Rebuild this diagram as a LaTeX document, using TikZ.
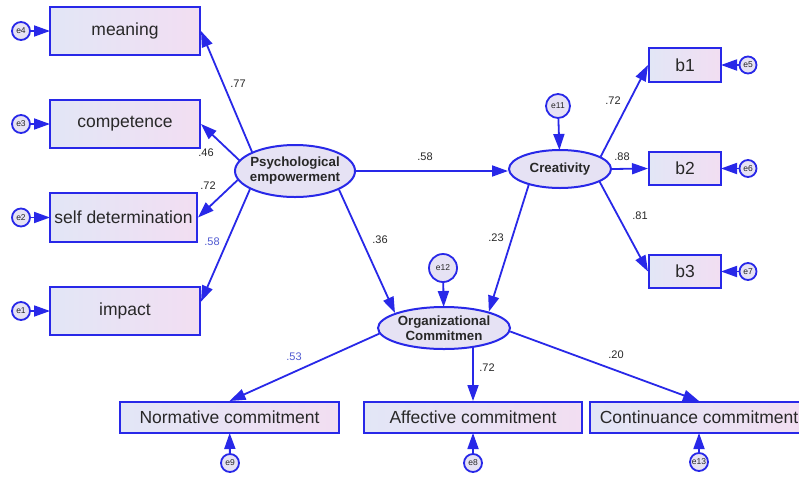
\documentclass[tikz,border=0pt]{standalone}
\usepackage{fontspec}
\setmainfont{Liberation Sans}
\usetikzlibrary{shapes.geometric, arrows.meta, calc}
\definecolor{LineBlue}{RGB}{40,40,232}
\definecolor{BoxLeft}{RGB}{226,230,246}
\definecolor{BoxRight}{RGB}{242,222,242}
\definecolor{LatFill}{RGB}{230,226,244}
\definecolor{CoefBlue}{RGB}{80,90,210}
\definecolor{TextDark}{RGB}{40,40,40}
\tikzset{
  obs/.style={rectangle, draw=LineBlue, line width=2pt, left color=BoxLeft, right color=BoxRight, inner sep=0pt, text=TextDark, font=\fontsize{17.5}{20}\selectfont},
  latent/.style={ellipse, draw=LineBlue, line width=2pt, fill=LatFill, inner sep=-4pt, align=center, text=TextDark, font=\bfseries\fontsize{13.3}{15}\selectfont},
  err/.style={circle, draw=LineBlue, line width=1.8pt, fill=LatFill, inner sep=0pt, text=TextDark, font=\fontsize{8.5}{9}\selectfont},
  reg/.style={LineBlue, line width=1.8pt, -{Triangle[length=16pt,width=11pt]}},
  coef/.style={text=TextDark, font=\fontsize{11}{12}\selectfont}
}

\begin{document}
\begin{tikzpicture}[x=1pt, y=-1pt]
  \useasboundingbox[fill=white] (0,0) rectangle (799,477);

  % Indicators of psychological empowerment
  \node[obs, minimum width=150pt, minimum height=48pt] (meaning) at (125,31) {meaning};
  \node[obs, minimum width=150pt, minimum height=48pt] (competence) at (125,124) {competence};
  \node[obs, minimum width=147pt, minimum height=49pt] (selfdet) at (123.5,217.5) {self determination};
  \node[obs, minimum width=150pt, minimum height=48pt] (impact) at (125,311) {impact};
  \node[err, minimum size=18pt] (e4) at (21,31) {e4};
  \node[err, minimum size=18pt] (e3) at (21,124) {e3};
  \node[err, minimum size=18pt] (e2) at (21,217.5) {e2};
  \node[err, minimum size=18pt] (e1) at (21,311) {e1};

  % Indicators of creativity
  \node[obs, minimum width=72pt, minimum height=34pt] (b1) at (685,65) {b1};
  \node[obs, minimum width=72pt, minimum height=33pt] (b2) at (685,168.5) {b2};
  \node[obs, minimum width=72pt, minimum height=33pt] (b3) at (685,271.5) {b3};
  \node[err, minimum size=17pt] (e5) at (748,65) {e5};
  \node[err, minimum size=17pt] (e6) at (748,168.5) {e6};
  \node[err, minimum size=17pt] (e7) at (748,271.5) {e7};

  % Indicators of organizational commitment
  \node[obs, minimum width=219pt, minimum height=31pt] (norm) at (229.5,417.5) {Normative commitment};
  \node[obs, minimum width=218pt, minimum height=31pt] (aff) at (473,417.5) {Affective commitment};
  \node[obs, minimum width=218pt, minimum height=31pt] (cont) at (699,417.5) {Continuance commitment};
  \node[err, minimum size=18pt] (e9) at (230,463) {e9};
  \node[err, minimum size=18pt] (e8) at (473,463) {e8};
  \node[err, minimum size=18pt] (e13) at (699,462) {e13};

  % Latent variables
  \node[latent, minimum width=120pt, minimum height=52pt] (PE) at (295,171) {Psychological\\empowerment};
  \node[latent, minimum width=102pt, minimum height=38pt] (Cr) at (560,169) {Creativity};
  \node[latent, minimum width=132pt, minimum height=42pt] (Org) at (444,328) {Organizational\\Commitmen};
  \node[err, minimum size=24pt] (e11) at (558,106) {e11};
  \node[err, minimum size=28pt] (e12) at (443,268) {e12};

  % Error terms
  \foreach \e/\v in {e4/meaning, e3/competence, e2/selfdet, e1/impact, e5/b1, e6/b2, e7/b3, e9/norm, e8/aff, e13/cont, e11/Cr, e12/Org}
    \draw[reg, shorten >=-1pt] (\e) -- (\v);

  % Loadings and paths
  \draw[reg] (PE.156) -- (meaning.east);
  \draw[reg] (PE.169) -- (competence.east);
  \draw[reg] (PE.189) -- (selfdet.east);
  \draw[reg] (PE.202) -- (impact.7);
  \draw[reg] (PE.east) -- (PE.east -| Cr.west);
  \draw[reg] (PE.-23) -- (Org.163);
  \draw[reg] (Cr.207) -- (Org.20);
  \draw[reg] (Cr.17) -- (b1.west);
  \draw[reg] (Cr.east) -- (b2.west);
  \draw[reg] (Cr.-18) -- (b3.west);
  \draw[reg] (Org.185) -- (norm.north);
  \draw[reg] (aff.north |- Org.-36) -- (aff.north);
  \draw[reg] (Org.-3) -- (cont.north);

  % Coefficients
  \node[coef] (c77) at (238,84) {.77};
  \node[coef] (c46) at (206,153) {.46};
  \node[coef] (c72a) at (208,186) {.72};
  \node[coef, text=CoefBlue] (c58a) at (212,242) {.58};
  \node[coef] (c58b) at (425,157) {.58};
  \node[coef] (c36) at (380,240) {.36};
  \node[coef] (c23) at (496,238) {.23};
  \node[coef] (c72b) at (613,101) {.72};
  \node[coef] (c88) at (622,157) {.88};
  \node[coef] (c81) at (640,216) {.81};
  \node[coef, text=CoefBlue] (c53) at (294,357) {.53};
  \node[coef] (c72c) at (487,368) {.72};
  \node[coef] (c20) at (616,355) {.20};
\end{tikzpicture}
\end{document}
